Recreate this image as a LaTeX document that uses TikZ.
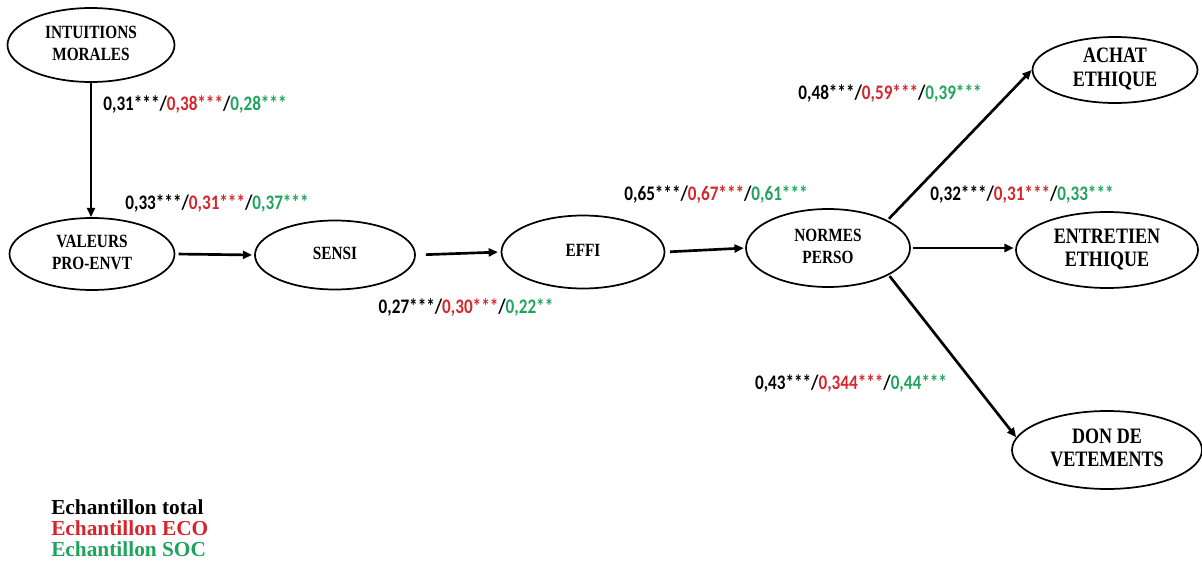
\documentclass[tikz,border=0pt]{standalone}
\usepackage{fontspec}
\setmainfont{Liberation Serif}
\newfontfamily\lblfont{Carlito}
\usetikzlibrary{shapes.geometric,arrows.meta}
\definecolor{ecored}{RGB}{214,38,45}
\definecolor{socgreen}{RGB}{32,163,92}
\newcommand{\coef}[3]{\scalebox{0.83}[1]{#1/\textcolor{ecored}{#2}/\textcolor{socgreen}{#3}}}
\newcommand{\nt}[1]{\scalebox{0.82}[1]{\begin{tabular}{@{}c@{}}#1\end{tabular}}}
\tikzset{
  var/.style={ellipse, draw, line width=1.3pt, inner sep=0pt, align=center,
    font=\bfseries\fontsize{14}{16.5}\selectfont},
  bigvar/.style={var, font=\bfseries\fontsize{16.5}{17.5}\selectfont},
  path/.style={line width=2pt, -{Triangle[length=7pt,width=6pt]}},
  coefl/.style={font=\lblfont\bfseries\fontsize{15.5}{18}\selectfont, inner sep=0pt},
  legl/.style={font=\bfseries\fontsize{16}{18}\selectfont, anchor=west, inner sep=0pt}
}
\begin{document}
\begin{tikzpicture}[x=0.75pt,y=-0.75pt]
\useasboundingbox (0,0) rectangle (1202,563);
% variables
\node[var, minimum width=125.25pt, minimum height=55.5pt] (intu) at (91,45) {\nt{INTUITIONS\\MORALES}};
\node[var, minimum width=123.75pt, minimum height=54pt] (val) at (92,254) {\nt{VALEURS\\PRO-ENVT}};
\node[var, minimum width=120pt, minimum height=51.75pt] (sensi) at (335,255) {\nt{SENSI}};
\node[var, minimum width=122.25pt, minimum height=54.75pt] (effi) at (583,252) {\nt{EFFI}};
\node[var, minimum width=123pt, minimum height=58.5pt] (normes) at (828,248) {\nt{NORMES\\PERSO}};
\node[bigvar, minimum width=123.75pt, minimum height=48pt] (achat) at (1115,70) {\nt{ACHAT\\ETHIQUE}};
\node[bigvar, minimum width=136.5pt, minimum height=57pt] (entr) at (1107,250) {\nt{ENTRETIEN\\ETHIQUE}};
\node[bigvar, minimum width=142.5pt, minimum height=58.5pt] (don) at (1107,450) {\nt{DON DE\\VETEMENTS}};
% paths
\draw[path] (intu.south) -- (intu.south |- val.north);
\draw[path, shorten <=2.5pt, shorten >=1.5pt] (val.east) -- (sensi.west);
\draw[path, shorten <=7.5pt, shorten >=2pt] (sensi.east) -- (effi.west);
\draw[path, shorten <=3.5pt, shorten >=1pt] (effi.east) -- (normes.west);
\draw[path, shorten <=1.5pt] (normes.25) -- (achat.west);
\draw[path, shorten <=1.5pt, shorten >=1pt] (normes.east) -- (normes.east -| entr.west);
\draw[path, shorten <=1pt] (normes.-24) -- (don.172);
% coefficients
\node[coefl] (c1) at (195,105) {\coef{0,31***}{0,38***}{0,28***}};
\node[coefl] (c2) at (217,204) {\coef{0,33***}{0,31***}{0,37***}};
\node[coefl] (c3) at (466,308) {\coef{0,27***}{0,30***}{0,22**}};
\node[coefl] (c4) at (716,195) {\coef{0,65***}{0,67***}{0,61***}};
\node[coefl] (c5) at (890,94) {\coef{0,48***}{0,59***}{0,39***}};
\node[coefl] (c6) at (1022,195) {\coef{0,32***}{0,31***}{0,33***}};
\node[coefl] (c7) at (851,384) {\coef{0,43***}{0,344***}{0,44***}};
% legend
\node[legl] (l1) at (51,507) {Echantillon total};
\node[legl, text=ecored] (l2) at (51,528) {Echantillon ECO};
\node[legl, text=socgreen] (l3) at (51,549) {Echantillon SOC};
\end{tikzpicture}
\end{document}
